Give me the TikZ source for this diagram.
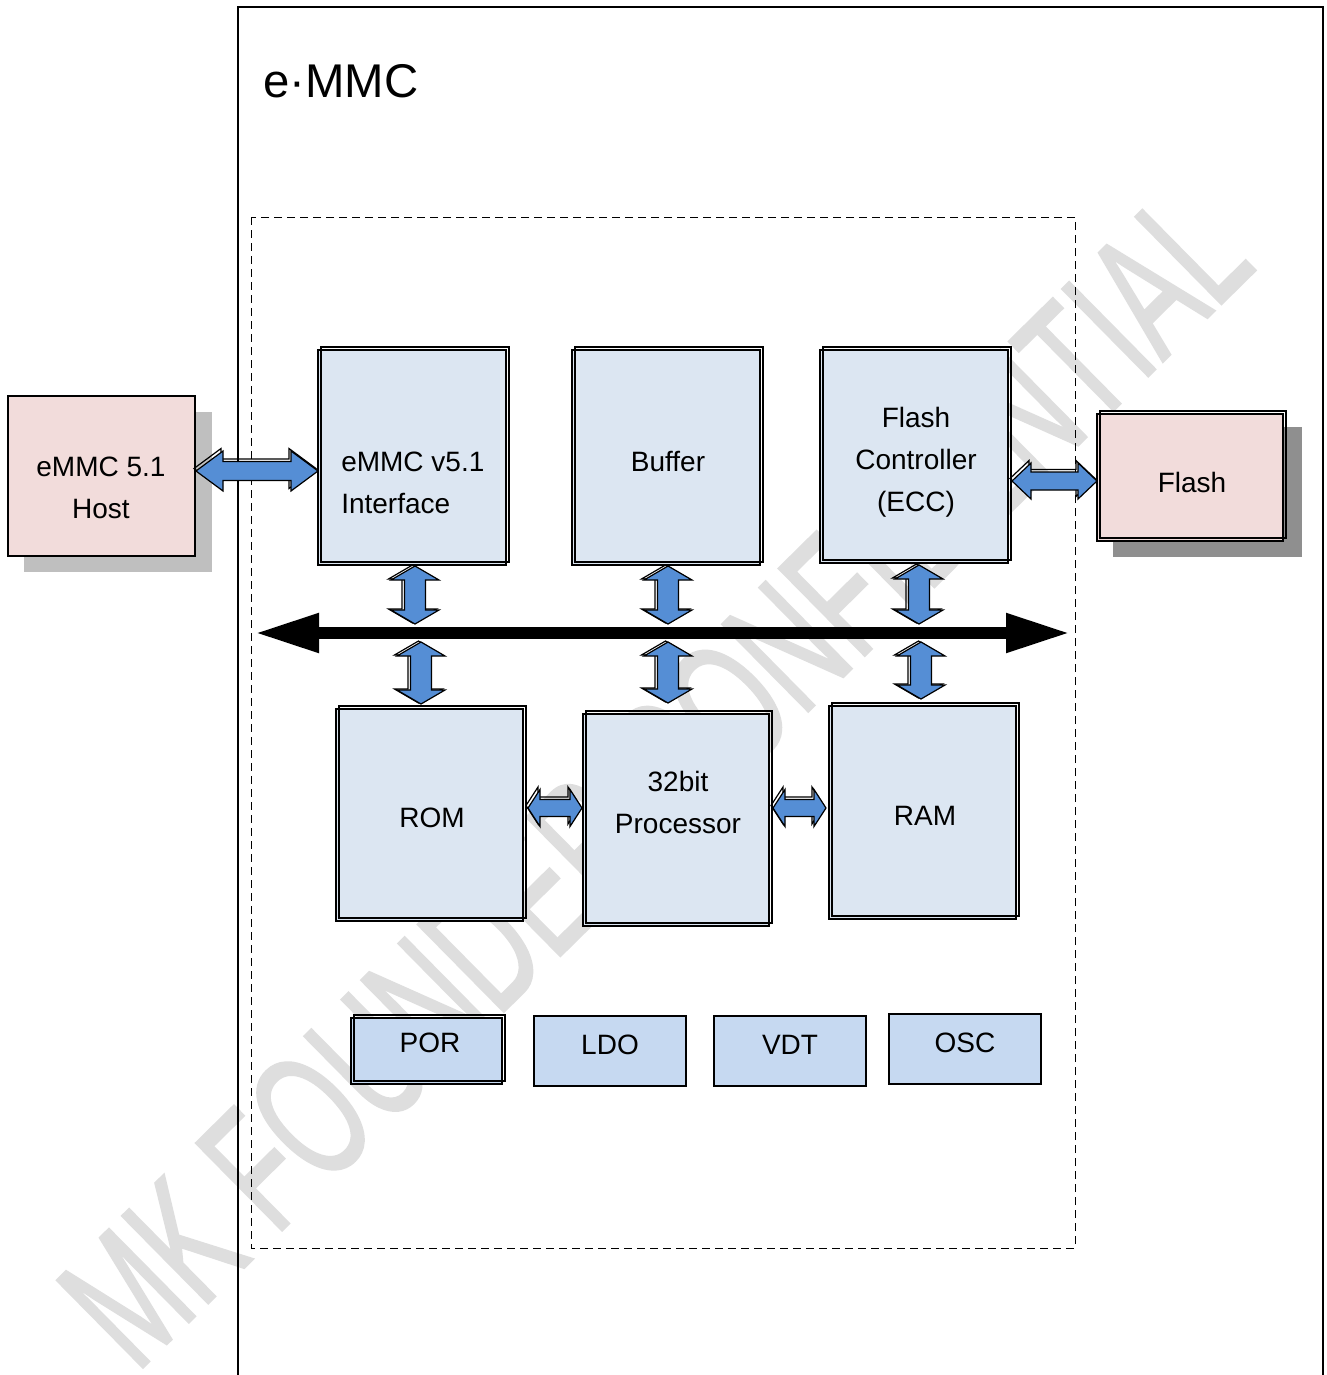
\documentclass[tikz,border=0pt]{standalone}
\usepackage{fontspec}
\setmainfont{Liberation Sans}
\newfontfamily\wmfont[FakeBold=1.6]{Liberation Sans}
\usepackage{graphicx}
\usetikzlibrary{calc,fit,arrows.meta}
\definecolor{pinkfill}{HTML}{F2DCDB}
\definecolor{bluebox}{HTML}{DCE6F2}
\definecolor{smallblue}{HTML}{C6D9F1}
\definecolor{arrowblue}{HTML}{558ED5}
\definecolor{shadowA}{HTML}{BFBFBF}
\definecolor{shadowB}{HTML}{8F8F8F}
\definecolor{wmgray}{HTML}{DEDEDE}
\tikzset{
  box/.style={rectangle, draw=black, line width=1.05pt, fill=bluebox, inner sep=0pt, outer sep=0pt},
  sbox/.style={box, fill=smallblue},
  pbox/.style={box, fill=pinkfill},
  lbl/.style={font=\fontsize{21}{31.5}\selectfont, align=center, inner sep=0pt},
  arrmain/.style={fill=arrowblue, draw=black, line width=0.9pt, line join=miter},
  arrsh/.style={draw=black, line width=0.9pt, line join=miter},
  wmark/.style={text=wmgray, font=\wmfont\fontsize{133}{133}\selectfont, inner sep=0pt},
  dashbox/.style={draw=black, line width=0.75pt, dash pattern=on 6pt off 3.75pt},
  frameline/.style={draw=black, line width=1.1pt},
}
% vertical double block arrow: style, top, bottom, H, S, L, ox, oy
\newcommand{\vbarpath}[8]{%
\draw[#1] ($(#2)+(#7,#8)$) -- ($(#2)+({#4+(#7)},{#6+(#8)})$) -- ($(#2)+({#5+(#7)},{#6+(#8)})$)
 -- ($(#3)+({#5+(#7)},{-#6+(#8)})$) -- ($(#3)+({#4+(#7)},{-#6+(#8)})$) -- ($(#3)+(#7,#8)$)
 -- ($(#3)+({-#4+(#7)},{-#6+(#8)})$) -- ($(#3)+({-#5+(#7)},{-#6+(#8)})$)
 -- ($(#2)+({-#5+(#7)},{#6+(#8)})$) -- ($(#2)+({-#4+(#7)},{#6+(#8)})$) -- cycle;}
% horizontal double block arrow: style, left, right, H, S, L, ox, oy
\newcommand{\hbarpath}[8]{%
\draw[#1] ($(#2)+(#7,#8)$) -- ($(#2)+({#6+(#7)},{-#4+(#8)})$) -- ($(#2)+({#6+(#7)},{-#5+(#8)})$)
 -- ($(#3)+({-#6+(#7)},{-#5+(#8)})$) -- ($(#3)+({-#6+(#7)},{-#4+(#8)})$) -- ($(#3)+(#7,#8)$)
 -- ($(#3)+({-#6+(#7)},{#4+(#8)})$) -- ($(#3)+({-#6+(#7)},{#5+(#8)})$)
 -- ($(#2)+({#6+(#7)},{#5+(#8)})$) -- ($(#2)+({#6+(#7)},{#4+(#8)})$) -- cycle;}
\newcommand{\varr}[5]{\vbarpath{arrsh}{#1}{#2}{#3}{#4}{#5}{-2.5}{-1}\vbarpath{arrmain}{#1}{#2}{#3}{#4}{#5}{0}{0}}
\newcommand{\harr}[5]{\hbarpath{arrsh}{#1}{#2}{#3}{#4}{#5}{-2}{-2.5}\hbarpath{arrmain}{#1}{#2}{#3}{#4}{#5}{0}{0}}
\newcommand{\dblframe}[1]{\draw[line width=0.8pt] ([shift={(3,-3)}]#1.south west) rectangle ([shift={(3,-3)}]#1.north east);}
\begin{document}
\begin{tikzpicture}[x=0.75pt,y=-0.75pt]
\useasboundingbox (0,0) rectangle (1327,1375);
\clip (0,0) rectangle (1327,1375);
\fill[white] (0,0) rectangle (1327,1375);
% watermark
\node[wmark, rotate=44.6, anchor=base west] (wm) at (136,1374) {\scalebox{0.62}[1]{MK FOUNDER CONFIDENTIAL}};
% outer frame and title
\draw[frameline] (238,1380) -- (238,7) -- (1323,7) -- (1323,1380);
\node[anchor=base west, inner sep=0pt, font=\fontsize{35.5}{40}\selectfont] (title) at (263,97) {e·MMC};
% dashed chip region
\draw[dashbox] (251,217) rectangle (1075,1248);
% shadows
\fill[shadowA] (24,412) rectangle (212,572);
\fill[shadowB] (1113,427) rectangle (1302,557);
% boxes
\node[pbox, fit={(8,396) (195,556)}] (host) {};
\node[pbox, fit={(1097,414) (1283,541)}] (flash) {};
\node[box, fit={(318,350) (506,565)}] (iface) {};
\node[box, fit={(572,350) (760,565)}] (buffer) {};
\node[box, fit={(820,350) (1008,563)}] (fctrl) {};
\node[box, fit={(336,709) (523,921)}] (rom) {};
\node[box, fit={(583,714) (769,926)}] (proc) {};
\node[box, fit={(829,706) (1016,919)}] (ram) {};
\node[sbox, fit={(351,1018) (502,1084)}] (por) {};
\node[sbox, fit={(534,1016) (686,1086)}] (ldo) {};
\node[sbox, fit={(714,1016) (866,1086)}] (vdt) {};
\node[sbox, fit={(889,1014) (1041,1084)}] (osc) {};
\dblframe{flash}
\dblframe{iface}
\dblframe{buffer}
\dblframe{fctrl}
\dblframe{rom}
\dblframe{proc}
\dblframe{ram}
\dblframe{por}
% labels
\node[lbl] (hostT) at (101,488) {eMMC 5.1\\Host};
\node[lbl] (flashT) at (1192,482) {Flash};
\node[lbl, anchor=west, align=left] (ifaceT) at (341,483) {eMMC v5.1\\Interface};
\node[lbl] (bufferT) at (668,461) {Buffer};
\node[lbl] (fctrlT) at (916,462) {Flash\\Controller\\(ECC)};
\node[lbl] (romT) at (432,818) {ROM};
\node[lbl] (procT) at (678,802) {32bit\\Processor};
\node[lbl] (ramT) at (925,816) {RAM};
\node[lbl] (porT) at (430,1043) {POR};
\node[lbl] (ldoT) at (610,1045) {LDO};
\node[lbl] (vdtT) at (790,1045) {VDT};
\node[lbl] (oscT) at (965,1043) {OSC};
% internal bus
\coordinate (busL) at (255,633);
\coordinate (busR) at (1070,633);
\draw[line width=9pt, {Triangle[length=48pt,width=27.5pt]}-{Triangle[length=48pt,width=27.5pt]}] (busL) -- (busR);
\coordinate (busTop) at (0,624);
\coordinate (busBot) at (0,642);
% arrow end points
\coordinate (a1t) at ($(iface.south)+(3,1)$);  \coordinate (a1b) at (a1t |- busTop);
\coordinate (a2t) at ($(buffer.south)+(2,1)$); \coordinate (a2b) at (a2t |- busTop);
\coordinate (a3t) at ($(fctrl.south)+(5,2)$);  \coordinate (a3b) at (a3t |- busTop);
\coordinate (b1b) at ($(rom.north)+(-8.5,-5)$);  \coordinate (b1t) at (b1b |- busBot);
\coordinate (b2b) at ($(proc.north)+(-8,-11)$);  \coordinate (b2t) at (b2b |- busBot);
\coordinate (b3b) at ($(ram.north)+(-1.5,-7)$);  \coordinate (b3t) at (b3b |- busBot);
\coordinate (hl) at ($(host.east)+(1,-5)$);   \coordinate (hr) at (hl -| iface.west);
\coordinate (fl) at ($(fctrl.east)+(4,24.5)$); \coordinate (fr) at (fl -| flash.west);
\coordinate (rl) at ($(rom.east)+(5,-7)$);    \coordinate (rr) at ($(rl -| proc.west)+(-1,0)$);
\coordinate (pl) at ($(proc.east)+(4,-12)$);  \coordinate (pr) at ($(pl -| ram.west)+(-3,0)$);
% block arrows
\varr{a1t}{a1b}{24}{10.5}{14}
\varr{a2t}{a2b}{24}{10.5}{14}
\varr{a3t}{a3b}{24}{10.5}{14}
\varr{b1t}{b1b}{24}{10.5}{14}
\varr{b2t}{b2b}{24}{10.5}{14}
\varr{b3t}{b3b}{24}{10.5}{14}
\harr{hl}{hr}{20}{9.5}{27}
\harr{fl}{fr}{18}{9}{19}
\harr{rl}{rr}{18.5}{8.5}{12}
\harr{pl}{pr}{18.5}{8.5}{12}
\end{tikzpicture}
\end{document}
